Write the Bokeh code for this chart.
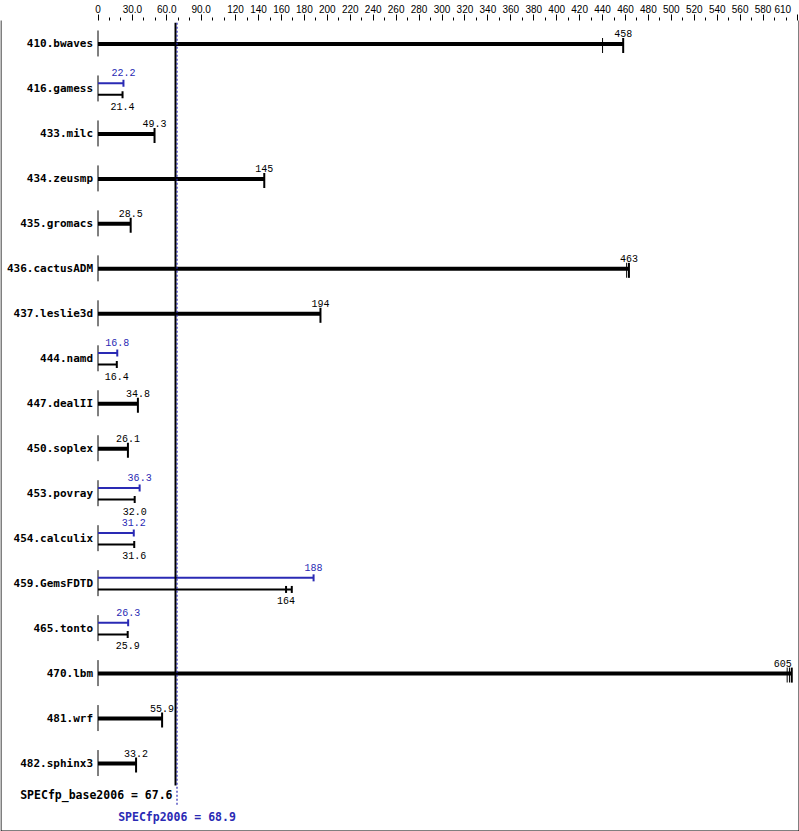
from bokeh.plotting import figure
from bokeh.models import Range1d, FixedTicker, ColumnDataSource, BoxAnnotation
from bokeh.core.properties import value
from bokeh.embed import file_html
from bokeh.resources import INLINE

# ---------------- data ----------------
benchmarks = ["410.bwaves", "416.gamess", "433.milc", "434.zeusmp", "435.gromacs",
              "436.cactusADM", "437.leslie3d", "444.namd", "447.dealII", "450.soplex",
              "453.povray", "454.calculix", "459.GemsFDTD", "465.tonto", "470.lbm",
              "481.wrf", "482.sphinx3"]
base_scores = [458, 21.4, 49.3, 145, 28.5, 463, 194, 16.4, 34.8, 26.1,
               32.0, 31.6, 164, 25.9, 605, 55.9, 33.2]
# None -> peak identical to base (single thick bar)
peak_scores = [None, 22.2, None, None, None, None, None, 16.8, None, None,
               36.3, 31.2, 188, 26.3, None, None, None]
base_runs = [[440, 458], [21.4], [49.3], [145], [28.5], [461, 463], [194], [16.4],
             [34.8], [26.1], [32.0], [31.6], [164, 169], [25.9], [601, 603, 605],
             [55.9], [33.2]]
peak_runs = [None, [22.2], None, None, None, None, None, [16.8], None, None,
             [36.3], [31.2], [188], [26.3], None, None, None]
base_mean = 67.6
peak_mean = 68.9
base_mean_label = "SPECfp_base2006 = 67.6"
peak_mean_label = "SPECfp2006 = 68.9"

major_ticks = [0, 30, 60, 90, 120, 140, 160, 180, 200, 220, 240, 260, 280, 300, 320,
               340, 360, 380, 400, 420, 440, 460, 480, 500, 520, 540, 560, 580, 610]
major_tick_labels = ["0", "30.0", "60.0", "90.0", "120", "140", "160", "180", "200",
                     "220", "240", "260", "280", "300", "320", "340", "360", "380",
                     "400", "420", "440", "460", "480", "500", "520", "540", "560",
                     "580", "610"]
minor_ticks = [10, 20, 40, 50, 70, 80, 100, 110, 130, 150, 170, 190, 210, 230, 250,
               270, 290, 310, 330, 350, 370, 390, 410, 430, 450, 470, 490, 510, 530,
               550, 570, 590, 600]

# ---------------- layout constants ----------------
W, H = 799, 831
X0_PX = 97.5
PPU = 1.1467
AXIS_PX = 19.5
ROW0_PX = 43.0
ROW_PX = 45.0
BLUE = "#2a2ab4"
BLACK = "#000000"

def dy(px):
    return px / ROW_PX

def row_of(px):
    return (px - ROW0_PX) / ROW_PX

x_range = Range1d(-X0_PX / PPU, (W - X0_PX) / PPU)
y_range = Range1d(start=(H - ROW0_PX) / ROW_PX, end=-(ROW0_PX - AXIS_PX) / ROW_PX)

p = figure(width=W, height=H, x_range=x_range, y_range=y_range,
           x_axis_location="above", y_axis_location=None,
           toolbar_location=None, output_backend="svg", min_border=0)
p.min_border_left = 0
p.min_border_right = 0
p.min_border_bottom = 0
p.min_border_top = 0
p.xgrid.visible = False
p.ygrid.visible = False
p.outline_line_color = None
p.background_fill_color = "white"
p.border_fill_color = "white"

ax = p.xaxis[0]
ax.ticker = FixedTicker(ticks=major_ticks, minor_ticks=minor_ticks)
overrides = {t: l for t, l in zip(major_ticks, major_tick_labels)}
overrides[610] = "610" + "\u00a0" * 3
ax.major_label_overrides = overrides
ax.axis_line_color = None
ax.major_tick_out = 6
ax.major_tick_in = 0
ax.minor_tick_out = 3
ax.minor_tick_in = 0
ax.major_tick_line_color = BLACK
ax.minor_tick_line_color = BLACK
ax.major_label_standoff = 0
ax.major_label_text_font = "Liberation Sans"
ax.major_label_text_font_size = "10px"
ax.major_label_text_line_height = 1.0
ax.major_label_text_color = BLACK

# ---------------- build glyph data ----------------
seg = dict(x0=[], y0=[], x1=[], y1=[], c=[], w=[])
caps = dict(x=[], y=[], w=[], h=[], c=[])
lab = dict(x=[], y=[], t=[], c=[], yo=[], align=[])

def fmt(v):
    return "%d" % round(v) if v >= 100 else "%.1f" % v

def add_seg(x0, y0, x1, y1, c, w):
    seg["x0"].append(x0); seg["y0"].append(y0)
    seg["x1"].append(x1); seg["y1"].append(y1)
    seg["c"].append(c); seg["w"].append(w)

def add_cap(x, y, w, h, c):
    caps["x"].append(x); caps["y"].append(y)
    caps["w"].append(w); caps["h"].append(h); caps["c"].append(c)

def add_lab(x, y, t, c, yo):
    lab["x"].append(x); lab["y"].append(y); lab["t"].append(t)
    lab["c"].append(c); lab["yo"].append(yo)
    lab["align"].append("right" if x > 590 else "center")

for i, name in enumerate(benchmarks):
    # start line
    add_seg(0, i - dy(13.5), 0, i + dy(12.5), BLACK, 1)
    if peak_scores[i] is None:
        runs = base_runs[i]
        add_seg(0, i, max(runs), i, BLACK, 4)
        for r in runs:
            add_cap(r, i + dy(1.5), 2 if r == max(runs) else 1, 15, BLACK)
        add_lab(base_scores[i], i, fmt(base_scores[i]), BLACK, -10.5)
    else:
        yp, yb = i - dy(5.8), i + dy(5.8)
        pr, br = peak_runs[i], base_runs[i]
        add_seg(0, yp, max(pr), yp, BLUE, 2)
        add_seg(0, yb, max(br), yb, BLACK, 2)
        for r in pr:
            add_cap(r, yp, 2, 7, BLUE)
        for r in br:
            add_cap(r, yb, 2, 7, BLACK)
        add_lab(peak_scores[i], yp, fmt(peak_scores[i]), BLUE, -10.5)
        add_lab(base_scores[i], yb, fmt(base_scores[i]), BLACK, 11.5)

# mean lines
ytop = row_of(21.7)
add_seg(base_mean, ytop, base_mean, row_of(785), BLACK, 2)

p.segment(x0="x0", y0="y0", x1="x1", y1="y1", line_color="c", line_width="w",
          source=ColumnDataSource(seg))
p.segment(x0=[peak_mean], y0=[ytop], x1=[peak_mean], y1=[row_of(806)],
          line_color=BLUE, line_width=1.2, line_dash="2 2")
p.rect(x="x", y="y", width="w", height="h", width_units="screen",
       height_units="screen", fill_color="c", line_color=None,
       source=ColumnDataSource(caps))

p.text(x="x", y="y", text="t", text_color="c", y_offset="yo",
       text_baseline="middle", text_align="align",
       text_font=value("Liberation Mono"), text_font_size="10px",
       source=ColumnDataSource(lab))

# row labels
p.text(x=[0] * len(benchmarks), y=list(range(len(benchmarks))), text=benchmarks,
       x_offset=-5, y_offset=0, text_align="right", text_baseline="middle",
       text_font=value("DejaVu Sans Mono"), text_font_style="bold",
       text_font_size="11px", text_color=BLACK)

p.text(x=[base_mean], y=[row_of(794.5)], text=[base_mean_label], x_offset=-3,
       text_align="right", text_baseline="middle",
       text_font=value("DejaVu Sans Mono"), text_font_style="bold",
       text_font_size="11.5px", text_color=BLACK)
p.text(x=[peak_mean], y=[row_of(816.5)], text=[peak_mean_label],
       text_align="center", text_baseline="middle",
       text_font=value("DejaVu Sans Mono"), text_font_style="bold",
       text_font_size="11.5px", text_color=BLUE)

# frame around the whole picture
p.add_layout(BoxAnnotation(left=0.5, right=W - 0.5, top=0.5, bottom=H - 0.5,
                           left_units="canvas", right_units="canvas",
                           top_units="canvas", bottom_units="canvas",
                           fill_alpha=0, line_color=BLACK, line_width=1,
                           line_alpha=1))

open("out.html", "w").write(file_html(p, INLINE))
